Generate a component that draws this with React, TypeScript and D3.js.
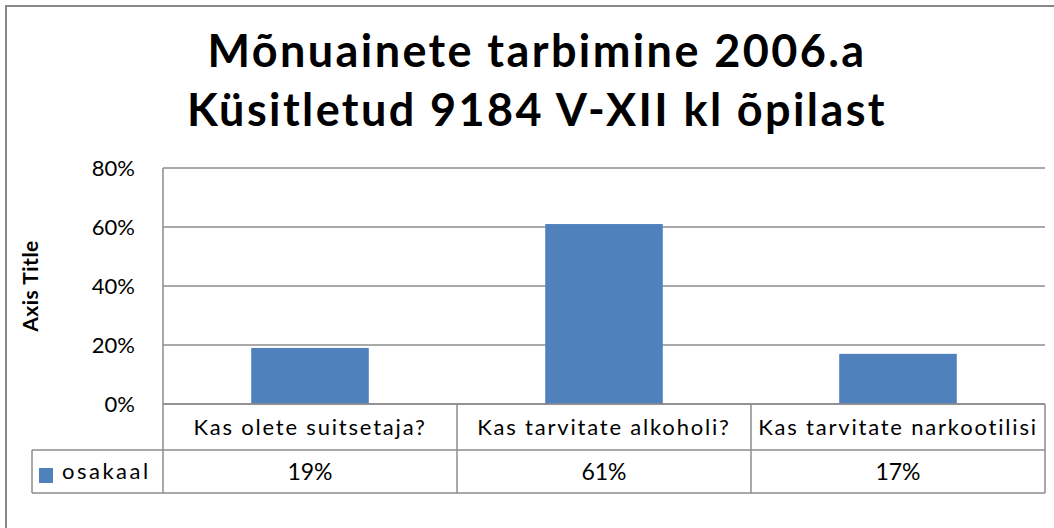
import * as d3 from 'd3'

const categories = ['Kas olete suitsetaja?', 'Kas tarvitate alkoholi?', 'Kas tarvitate narkootilisi']
const osakaal = [0.19, 0.61, 0.17]
const valueLabels = ['19%', '61%', '17%']
const yTicks = [0, 0.2, 0.4, 0.6, 0.8]
const titleLines = ['Mõnuainete tarbimine 2006.a', 'Küsitletud 9184 V-XII kl õpilast']
const seriesName = 'osakaal'

const W = 1054
const H = 528
const FONT = 'Lato, "Liberation Sans", sans-serif'
const BLUE = '#4F81BD'
const GRID = '#8C8C8C'

export default function App() {
  // plot area
  const left = 163
  const right = 1045
  const top = 168
  const bottom = 404
  const row1 = 450 // end of category row
  const row2 = 493 // end of value row
  const legendLeft = 32

  const x = d3.scaleBand().domain(categories).range([left, right]).padding(0)
  const y = d3.scaleLinear().domain([0, 0.8]).range([bottom, top])
  const barW = x.bandwidth() * 0.4
  const fmt = d3.format('.0%')

  return (
    <svg
      width={W}
      height={H}
      style={{ position: 'fixed', left: 0, top: 0, background: '#fff' }}
      fontFamily={FONT}
    >
      <rect x={0} y={0} width={W} height={H} fill="#fff" />
      {/* outer chart frame */}
      <rect x={6} y={6} width={W + 20} height={H + 20} fill="none" stroke="#878787" strokeWidth={2} />

      {/* title */}
      {titleLines.map((t, i) => (
        <text
          key={i}
          x={537}
          y={67 + i * 59}
          textAnchor="middle"
          fontSize={45}
          fontWeight="bold"
          letterSpacing={2.4}
          fill="#000"
        >
          {t}
        </text>
      ))}

      {/* gridlines + y tick labels */}
      {yTicks.map((t) => (
        <g key={t}>
          <line x1={left} x2={right} y1={y(t)} y2={y(t)} stroke={GRID} strokeWidth={1.5} />
          <text x={135} y={y(t)} dy="0.35em" textAnchor="end" fontSize={22} fill="#000">
            {fmt(t)}
          </text>
        </g>
      ))}

      {/* axis title */}
      <text
        transform={`translate(38,${(top + bottom) / 2}) rotate(-90)`}
        textAnchor="middle"
        fontSize={21}
        fontWeight="bold"
        letterSpacing={0.5}
        fill="#000"
      >
        Axis Title
      </text>

      {/* bars */}
      {categories.map((c, i) => (
        <rect
          key={c}
          x={(x(c) ?? 0) + (x.bandwidth() - barW) / 2}
          y={y(osakaal[i])}
          width={barW}
          height={bottom - y(osakaal[i])}
          fill={BLUE}
        />
      ))}

      {/* data table */}
      <g stroke={GRID} strokeWidth={1.5}>
        <line x1={left} x2={left} y1={top} y2={row2} />
        <line x1={left} x2={right} y1={bottom} y2={bottom} />
        <line x1={legendLeft} x2={right} y1={row1} y2={row1} />
        <line x1={legendLeft} x2={right} y1={row2} y2={row2} />
        <line x1={legendLeft} x2={legendLeft} y1={row1} y2={row2} />
        {categories.map((c) => (
          <line key={c} x1={(x(c) ?? 0) + x.bandwidth()} x2={(x(c) ?? 0) + x.bandwidth()} y1={bottom} y2={row2} />
        ))}
      </g>
      {categories.map((c, i) => (
        <g key={c}>
          <text
            x={(x(c) ?? 0) + x.bandwidth() / 2}
            y={(bottom + row1) / 2}
            dy="0.35em"
            textAnchor="middle"
            fontSize={22}
            letterSpacing={1.8}
            fill="#000"
          >
            {c}
          </text>
          <text
            x={(x(c) ?? 0) + x.bandwidth() / 2}
            y={(row1 + row2) / 2}
            dy="0.35em"
            textAnchor="middle"
            fontSize={23}
            fill="#000"
          >
            {valueLabels[i]}
          </text>
        </g>
      ))}

      {/* legend key in table */}
      <rect x={39} y={468} width={14} height={15} fill={BLUE} />
      <text x={62} y={(row1 + row2) / 2} dy="0.35em" fontSize={22} letterSpacing={2.5} fill="#000">
        {seriesName}
      </text>
    </svg>
  )
}
